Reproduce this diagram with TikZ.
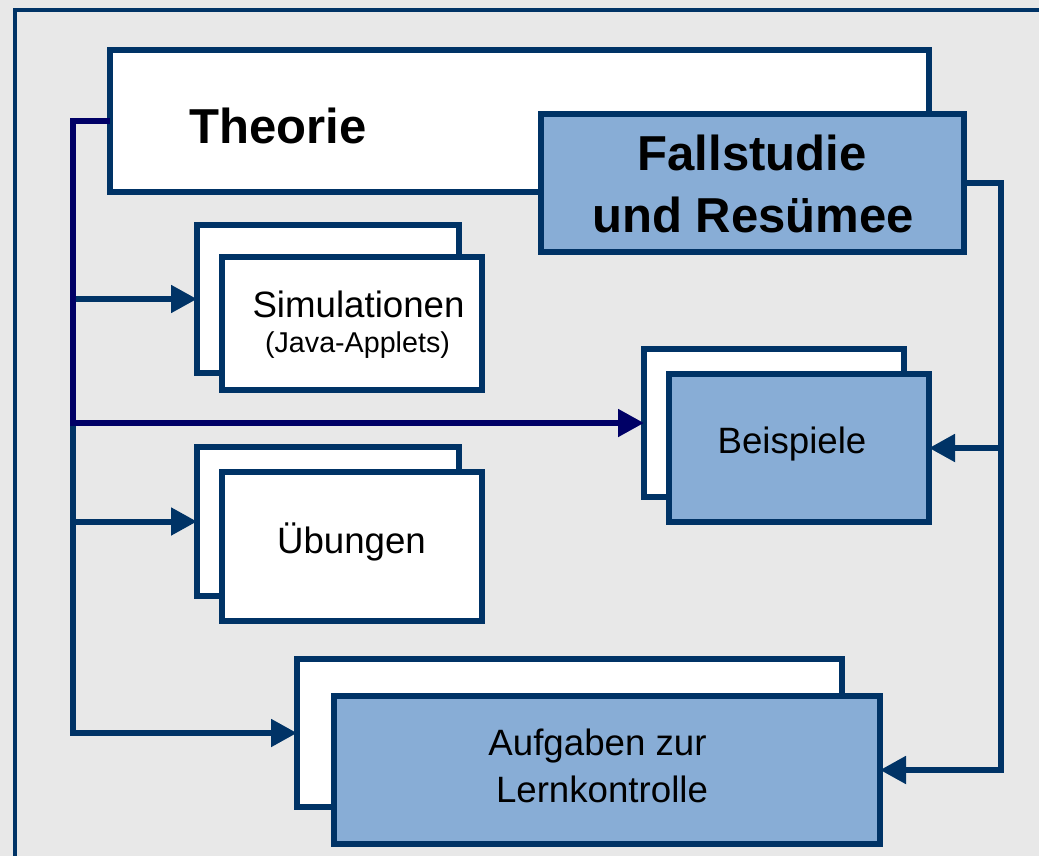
\documentclass[tikz,border=0pt]{standalone}
\usepackage{fontspec}
\setmainfont{Liberation Sans}
\usetikzlibrary{arrows.meta}
\definecolor{boxline}{RGB}{0,51,102}
\definecolor{navyline}{RGB}{0,0,102}
\definecolor{boxfill}{RGB}{136,173,214}
\definecolor{bggray}{RGB}{232,232,232}
\tikzset{
  box/.style={draw=boxline, line width=4.5pt, fill=white, inner sep=0pt, outer sep=0pt},
  bluebox/.style={box, fill=boxfill},
  conn/.style={draw=boxline, line width=4.5pt},
  navyconn/.style={draw=navyline, line width=4.5pt},
  tip/.style={-{Triangle[length=19.5pt,width=20pt]}},
  bigtxt/.style={font=\fontsize{36.8}{40}\selectfont\bfseries, inner sep=0pt, anchor=base},
  midtxt/.style={font=\fontsize{27.5}{32}\selectfont, inner sep=0pt, anchor=base},
  smalltxt/.style={font=\fontsize{21.5}{25}\selectfont, inner sep=0pt, anchor=base}
}
\begin{document}
\begin{tikzpicture}[x=0.75pt, y=-0.75pt]
\useasboundingbox (0,0) rectangle (1039,856);
\clip (0,0) rectangle (1039,856);
\fill[bggray] (0,0) rectangle (1039,856);
\draw[boxline, line width=3pt] (15,10) rectangle (1070,890);

% boxes
\node[box, minimum width=819*0.75pt, minimum height=142*0.75pt] (theorie) at (519.5,121) {};
\node[bluebox, minimum width=423*0.75pt, minimum height=138*0.75pt] (fall) at (752.5,183) {};

\node[box, minimum width=262*0.75pt, minimum height=148*0.75pt] (simBack) at (328,299) {};
\node[box, minimum width=260*0.75pt, minimum height=133*0.75pt] (simFront) at (352,323.5) {};

\node[box, minimum width=260*0.75pt, minimum height=148*0.75pt] (beiBack) at (774,423) {};
\node[bluebox, minimum width=260*0.75pt, minimum height=148*0.75pt] (beiFront) at (799,448) {};

\node[box, minimum width=262*0.75pt, minimum height=149*0.75pt] (ubBack) at (328,521.5) {};
\node[box, minimum width=260*0.75pt, minimum height=149*0.75pt] (ubFront) at (352,546.5) {};

\node[box, minimum width=545*0.75pt, minimum height=148*0.75pt] (aufBack) at (569.5,733) {};
\node[bluebox, minimum width=546*0.75pt, minimum height=148*0.75pt] (aufFront) at (607,770) {};

% texts
\node[bigtxt, anchor=base west] (tTheorie) at (189,143) {Theorie};
\node[bigtxt] (tFall1) at (752,171) {Fallstudie};
\node[bigtxt] (tFall2) at (753,232) {und Resümee};
\node[midtxt] (tSim) at (358.5,317) {Simulationen};
\node[smalltxt] (tJava) at (357.5,352) {(Java-Applets)};
\node[midtxt] (tBei) at (792,453) {Beispiele};
\node[midtxt] (tUeb) at (351.5,553) {Übungen};
\node[midtxt] (tAuf1) at (597.5,755) {Aufgaben zur};
\node[midtxt] (tAuf2) at (602,802) {Lernkontrolle};

% left trunk coordinates
\coordinate (lTop) at (73,121);
\coordinate (lBot) at (73,733);
\coordinate (lSim) at (73,299);
\coordinate (lBei) at (73,423);
\coordinate (lUeb) at (73,521.5);
% right trunk coordinates
\coordinate (rTop) at (1001,183);
\coordinate (rBei) at (1001,448);
\coordinate (rBot) at (1001,770);

% connectors
\draw[conn, tip] (lTop) -- (lBot) -- (aufBack.west);
\draw[conn, tip] (lSim) -- (simBack.west);
\draw[conn, tip] (lUeb) -- (ubBack.west);
\draw[navyconn, tip, line join=miter] (theorie.west) -- (lTop) -- (lBei) -- (beiBack.west);
\draw[conn, tip, line join=miter] (fall.east) -- (rTop) -- (rBot) -- (aufFront.east);
\draw[conn, tip] (rBei) -- (beiFront.east);
\end{tikzpicture}
\end{document}
